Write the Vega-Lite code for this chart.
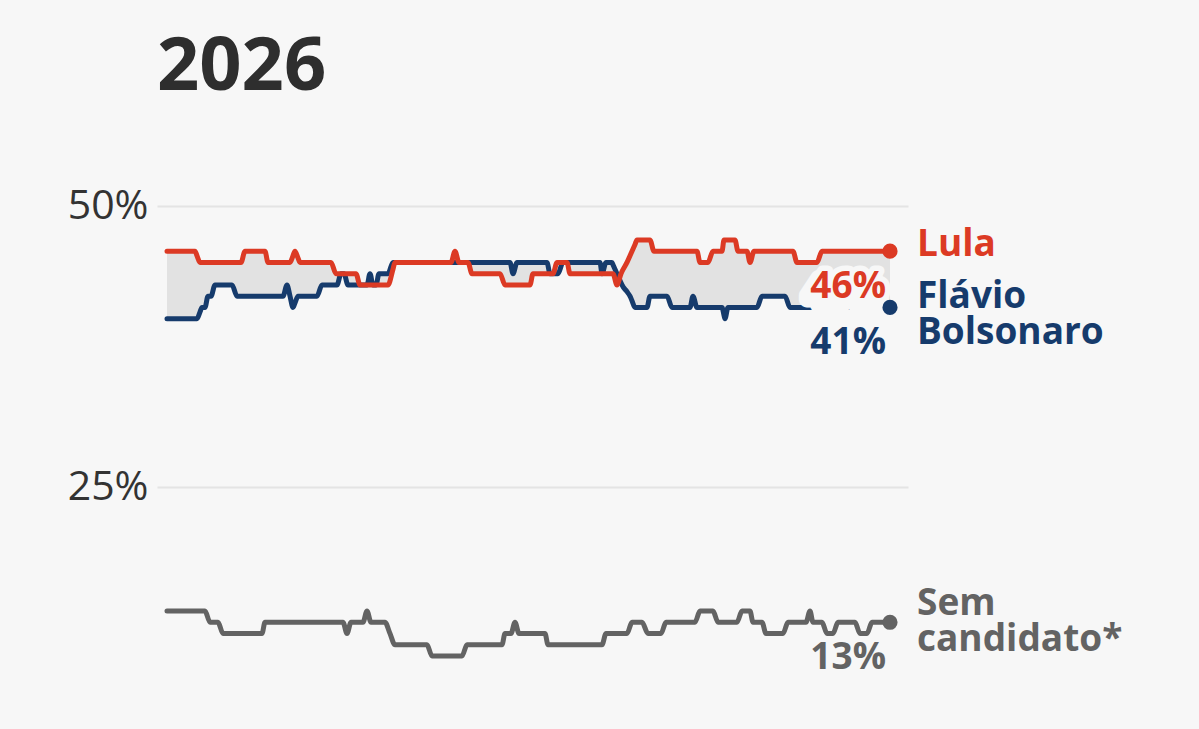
{
  "$schema": "https://vega.github.io/schema/vega-lite/v6.json",
  "width": 751,
  "height": 551,
  "autosize": {"type": "none"},
  "padding": {"left": 157, "top": 150, "right": 291, "bottom": 28},
  "background": "#f7f7f7",
  "title": {
    "text": "2026",
    "anchor": "start",
    "frame": "group",
    "font": "Open Sans",
    "fontSize": 74,
    "fontWeight": "bold",
    "color": "#2e2e2e",
    "baseline": "alphabetic",
    "offset": 62,
    "dy": 76
  },
  "config": {"view": {"stroke": null}, "font": "Open Sans"},
  "datasets": {
    "gap": [
      {"t": 0, "Lula": 46, "Flavio": 40},
      {"t": 28, "Lula": 46, "Flavio": 40},
      {"t": 30, "Lula": 45.6, "Flavio": 40},
      {"t": 33, "Lula": 45, "Flavio": 40.6},
      {"t": 35, "Lula": 45, "Flavio": 41},
      {"t": 38, "Lula": 45, "Flavio": 41},
      {"t": 41, "Lula": 45, "Flavio": 42},
      {"t": 44, "Lula": 45, "Flavio": 42},
      {"t": 48, "Lula": 45, "Flavio": 43},
      {"t": 65, "Lula": 45, "Flavio": 43},
      {"t": 70, "Lula": 45, "Flavio": 42},
      {"t": 74, "Lula": 45, "Flavio": 42},
      {"t": 78, "Lula": 46, "Flavio": 42},
      {"t": 98, "Lula": 46, "Flavio": 42},
      {"t": 101, "Lula": 45, "Flavio": 42},
      {"t": 116, "Lula": 45, "Flavio": 42},
      {"t": 120, "Lula": 45, "Flavio": 43},
      {"t": 123, "Lula": 45, "Flavio": 42},
      {"t": 126, "Lula": 45.6, "Flavio": 41},
      {"t": 128, "Lula": 46, "Flavio": 41.4},
      {"t": 131, "Lula": 45.4, "Flavio": 42},
      {"t": 133, "Lula": 45, "Flavio": 42},
      {"t": 150, "Lula": 45, "Flavio": 42},
      {"t": 155, "Lula": 45, "Flavio": 43},
      {"t": 164, "Lula": 45, "Flavio": 43},
      {"t": 169, "Lula": 44, "Flavio": 43},
      {"t": 170, "Lula": 44, "Flavio": 43},
      {"t": 174, "Lula": 44, "Flavio": 44},
      {"t": 177, "Lula": 44, "Flavio": 44},
      {"t": 181, "Lula": 44, "Flavio": 43},
      {"t": 189, "Lula": 44, "Flavio": 43},
      {"t": 193, "Lula": 43, "Flavio": 43},
      {"t": 200, "Lula": 43, "Flavio": 43},
      {"t": 203, "Lula": 43, "Flavio": 44},
      {"t": 206, "Lula": 43, "Flavio": 43},
      {"t": 209, "Lula": 43, "Flavio": 43},
      {"t": 212, "Lula": 43, "Flavio": 44},
      {"t": 221, "Lula": 43, "Flavio": 44},
      {"t": 226, "Lula": 44.4, "Flavio": 45},
      {"t": 228, "Lula": 45, "Flavio": 45},
      {"t": 284, "Lula": 45, "Flavio": 45},
      {"t": 288, "Lula": 46, "Flavio": 45},
      {"t": 292, "Lula": 45, "Flavio": 45},
      {"t": 301, "Lula": 45, "Flavio": 45},
      {"t": 305, "Lula": 44, "Flavio": 45},
      {"t": 333, "Lula": 44, "Flavio": 45},
      {"t": 338, "Lula": 43, "Flavio": 45},
      {"t": 343, "Lula": 43, "Flavio": 45},
      {"t": 346, "Lula": 43, "Flavio": 44},
      {"t": 350, "Lula": 43, "Flavio": 45},
      {"t": 363, "Lula": 43, "Flavio": 45},
      {"t": 366, "Lula": 44, "Flavio": 45},
      {"t": 380, "Lula": 44, "Flavio": 45},
      {"t": 383, "Lula": 44, "Flavio": 44},
      {"t": 386, "Lula": 44, "Flavio": 44},
      {"t": 390, "Lula": 45, "Flavio": 44},
      {"t": 391, "Lula": 45, "Flavio": 44},
      {"t": 396, "Lula": 45, "Flavio": 45},
      {"t": 400, "Lula": 45, "Flavio": 45},
      {"t": 403, "Lula": 44, "Flavio": 45},
      {"t": 433, "Lula": 44, "Flavio": 45},
      {"t": 435, "Lula": 44, "Flavio": 44},
      {"t": 439, "Lula": 44, "Flavio": 45},
      {"t": 445, "Lula": 44, "Flavio": 45},
      {"t": 446, "Lula": 44, "Flavio": 44.8},
      {"t": 450, "Lula": 43, "Flavio": 44},
      {"t": 454, "Lula": 44, "Flavio": 43.2},
      {"t": 455, "Lula": 44.2, "Flavio": 43},
      {"t": 460, "Lula": 45, "Flavio": 42.4},
      {"t": 463, "Lula": 45.6, "Flavio": 42},
      {"t": 465, "Lula": 46, "Flavio": 41.6},
      {"t": 468, "Lula": 46.6, "Flavio": 41},
      {"t": 470, "Lula": 47, "Flavio": 41},
      {"t": 480, "Lula": 47, "Flavio": 41},
      {"t": 483, "Lula": 47, "Flavio": 42},
      {"t": 487, "Lula": 46, "Flavio": 42},
      {"t": 500, "Lula": 46, "Flavio": 42},
      {"t": 505, "Lula": 46, "Flavio": 41},
      {"t": 523, "Lula": 46, "Flavio": 41},
      {"t": 526, "Lula": 46, "Flavio": 42},
      {"t": 530, "Lula": 46, "Flavio": 41},
      {"t": 533, "Lula": 45, "Flavio": 41},
      {"t": 541, "Lula": 45, "Flavio": 41},
      {"t": 546, "Lula": 46, "Flavio": 41},
      {"t": 553, "Lula": 46, "Flavio": 41},
      {"t": 555, "Lula": 46, "Flavio": 41},
      {"t": 557, "Lula": 47, "Flavio": 40.3},
      {"t": 558, "Lula": 47, "Flavio": 40},
      {"t": 561, "Lula": 47, "Flavio": 41},
      {"t": 568, "Lula": 47, "Flavio": 41},
      {"t": 571, "Lula": 46, "Flavio": 41},
      {"t": 580, "Lula": 46, "Flavio": 41},
      {"t": 583, "Lula": 45, "Flavio": 41},
      {"t": 587, "Lula": 46, "Flavio": 41},
      {"t": 590, "Lula": 46, "Flavio": 41},
      {"t": 595, "Lula": 46, "Flavio": 42},
      {"t": 618, "Lula": 46, "Flavio": 42},
      {"t": 623, "Lula": 46, "Flavio": 41},
      {"t": 626, "Lula": 46, "Flavio": 41},
      {"t": 630, "Lula": 45, "Flavio": 41},
      {"t": 650, "Lula": 45, "Flavio": 41},
      {"t": 655, "Lula": 46, "Flavio": 41},
      {"t": 723, "Lula": 46, "Flavio": 41}
    ],
    "sem": [
      {"t": 0, "v": 14}, {"t": 38, "v": 14}, {"t": 43, "v": 13}, {"t": 51, "v": 13},
      {"t": 56, "v": 12}, {"t": 95, "v": 12}, {"t": 98, "v": 13}, {"t": 176, "v": 13},
      {"t": 180, "v": 12}, {"t": 184, "v": 13}, {"t": 196, "v": 13}, {"t": 200, "v": 14},
      {"t": 204, "v": 13}, {"t": 218, "v": 13}, {"t": 223, "v": 12}, {"t": 228, "v": 11},
      {"t": 260, "v": 11}, {"t": 265, "v": 10}, {"t": 295, "v": 10}, {"t": 300, "v": 11},
      {"t": 335, "v": 11}, {"t": 338, "v": 12}, {"t": 344, "v": 12}, {"t": 348, "v": 13},
      {"t": 352, "v": 12}, {"t": 378, "v": 12}, {"t": 381, "v": 11}, {"t": 435, "v": 11},
      {"t": 439, "v": 12}, {"t": 460, "v": 12}, {"t": 465, "v": 13}, {"t": 475, "v": 13},
      {"t": 481, "v": 12}, {"t": 494, "v": 12}, {"t": 499, "v": 13}, {"t": 528, "v": 13},
      {"t": 533, "v": 14}, {"t": 546, "v": 14}, {"t": 551, "v": 13}, {"t": 570, "v": 13},
      {"t": 575, "v": 14}, {"t": 583, "v": 14}, {"t": 586, "v": 13}, {"t": 595, "v": 13},
      {"t": 599, "v": 12}, {"t": 616, "v": 12}, {"t": 621, "v": 13}, {"t": 639, "v": 13},
      {"t": 643, "v": 14}, {"t": 646, "v": 13}, {"t": 655, "v": 13}, {"t": 660, "v": 12},
      {"t": 666, "v": 12}, {"t": 671, "v": 13}, {"t": 688, "v": 13}, {"t": 693, "v": 12},
      {"t": 700, "v": 12}, {"t": 705, "v": 13}, {"t": 723, "v": 13}
    ],
    "ends": [
      {"t": 723, "v": 46, "serie": "Lula", "name": "Lula", "pct": "46%"},
      {"t": 723, "v": 41, "serie": "Flávio", "name": "Flávio\nBolsonaro", "pct": "41%"},
      {"t": 723, "v": 13, "serie": "Sem", "name": "Sem\ncandidato*", "pct": "13%"}
    ]
  },
  "layer": [
    {
      "data": {"name": "gap"},
      "mark": {"type": "area", "color": "#e2e2e2", "opacity": 1, "interpolate": "monotone"},
      "encoding": {
        "x": {"field": "t", "type": "quantitative", "scale": {"domain": [-10, 741], "nice": false, "zero": false}, "axis": null},
        "y": {
          "field": "Lula",
          "type": "quantitative",
          "title": null,
          "scale": {"domain": [6, 55], "nice": false, "zero": false},
          "axis": {
            "values": [25, 50],
            "labelExpr": "datum.value + '%'",
            "domain": false,
            "ticks": false,
            "labelFont": "Open Sans",
            "labelFontSize": 41,
            "labelColor": "#333333",
            "labelPadding": 9,
            "gridColor": "#e4e4e4",
            "gridWidth": 2
          }
        },
        "y2": {"field": "Flavio"}
      }
    },
    {
      "data": {"name": "gap"},
      "mark": {"type": "line", "color": "#163b6c", "strokeWidth": 5, "strokeJoin": "round", "strokeCap": "round", "interpolate": "monotone"},
      "encoding": {
        "x": {"field": "t", "type": "quantitative", "axis": null},
        "y": {"field": "Flavio", "type": "quantitative", "title": null}
      }
    },
    {
      "data": {"name": "gap"},
      "mark": {"type": "line", "color": "#dc3a24", "strokeWidth": 5, "strokeJoin": "round", "strokeCap": "round", "interpolate": "monotone"},
      "encoding": {
        "x": {"field": "t", "type": "quantitative", "axis": null},
        "y": {"field": "Lula", "type": "quantitative", "title": null}
      }
    },
    {
      "data": {"name": "sem"},
      "mark": {"type": "line", "color": "#636363", "strokeWidth": 5, "strokeJoin": "round", "strokeCap": "round", "interpolate": "monotone"},
      "encoding": {
        "x": {"field": "t", "type": "quantitative", "axis": null},
        "y": {"field": "v", "type": "quantitative", "title": null}
      }
    },
    {
      "data": {"name": "ends"},
      "mark": {"type": "text", "align": "right", "baseline": "middle", "dx": -8, "dy": 43,
        "fontSize": 37, "fontWeight": "bold", "fill": "#f7f7f7", "stroke": "#f7f7f7", "strokeWidth": 16, "strokeJoin": "round"},
      "encoding": {
        "x": {"field": "t", "type": "quantitative", "axis": null},
        "y": {"field": "v", "type": "quantitative", "title": null},
        "text": {"field": "pct"}
      }
    },
    {
      "data": {"name": "ends"},
      "mark": {"type": "text", "align": "right", "baseline": "middle", "dx": -4, "dy": 36,
        "fontSize": 37, "fontWeight": "bold", "fill": "#f7f7f7", "stroke": "#f7f7f7", "strokeWidth": 11, "strokeJoin": "round"},
      "encoding": {
        "x": {"field": "t", "type": "quantitative", "axis": null},
        "y": {"field": "v", "type": "quantitative", "title": null},
        "text": {"field": "pct"}
      }
    },
    {
      "data": {"name": "ends"},
      "mark": {"type": "circle", "size": 230, "opacity": 1},
      "encoding": {
        "x": {"field": "t", "type": "quantitative", "axis": null},
        "y": {"field": "v", "type": "quantitative", "title": null},
        "color": {"field": "serie", "type": "nominal", "legend": null,
          "scale": {"domain": ["Lula", "Flávio", "Sem"], "range": ["#dc3a24", "#163b6c", "#636363"]}}
      }
    },
    {
      "data": {"name": "ends"},
      "mark": {"type": "text", "align": "right", "baseline": "middle", "dx": -4, "dy": 36, "fontSize": 37, "fontWeight": "bold"},
      "encoding": {
        "x": {"field": "t", "type": "quantitative", "axis": null},
        "y": {"field": "v", "type": "quantitative", "title": null},
        "text": {"field": "pct"},
        "color": {"field": "serie", "type": "nominal", "legend": null}
      }
    },
    {
      "data": {"name": "ends"},
      "transform": [{"filter": "datum.serie == 'Lula'"}],
      "mark": {"type": "text", "align": "left", "baseline": "middle", "dx": 27, "dy": -6, "fontSize": 37, "fontWeight": "bold"},
      "encoding": {
        "x": {"field": "t", "type": "quantitative", "axis": null},
        "y": {"field": "v", "type": "quantitative", "title": null},
        "text": {"field": "name"},
        "color": {"field": "serie", "type": "nominal", "legend": null}
      }
    },
    {
      "data": {"name": "ends"},
      "transform": [{"filter": "datum.serie == 'Flávio'"}],
      "mark": {"type": "text", "align": "left", "baseline": "middle", "dx": 27, "dy": -10, "fontSize": 37, "fontWeight": "bold", "lineBreak": "\n", "lineHeight": 36},
      "encoding": {
        "x": {"field": "t", "type": "quantitative", "axis": null},
        "y": {"field": "v", "type": "quantitative", "title": null},
        "text": {"field": "name"},
        "color": {"field": "serie", "type": "nominal", "legend": null}
      }
    },
    {
      "data": {"name": "ends"},
      "transform": [{"filter": "datum.serie == 'Sem'"}],
      "mark": {"type": "text", "align": "left", "baseline": "middle", "dx": 27, "dy": -18, "fontSize": 37, "fontWeight": "bold", "lineBreak": "\n", "lineHeight": 36},
      "encoding": {
        "x": {"field": "t", "type": "quantitative", "axis": null},
        "y": {"field": "v", "type": "quantitative", "title": null},
        "text": {"field": "name"},
        "color": {"field": "serie", "type": "nominal", "legend": null}
      }
    }
  ]
}
